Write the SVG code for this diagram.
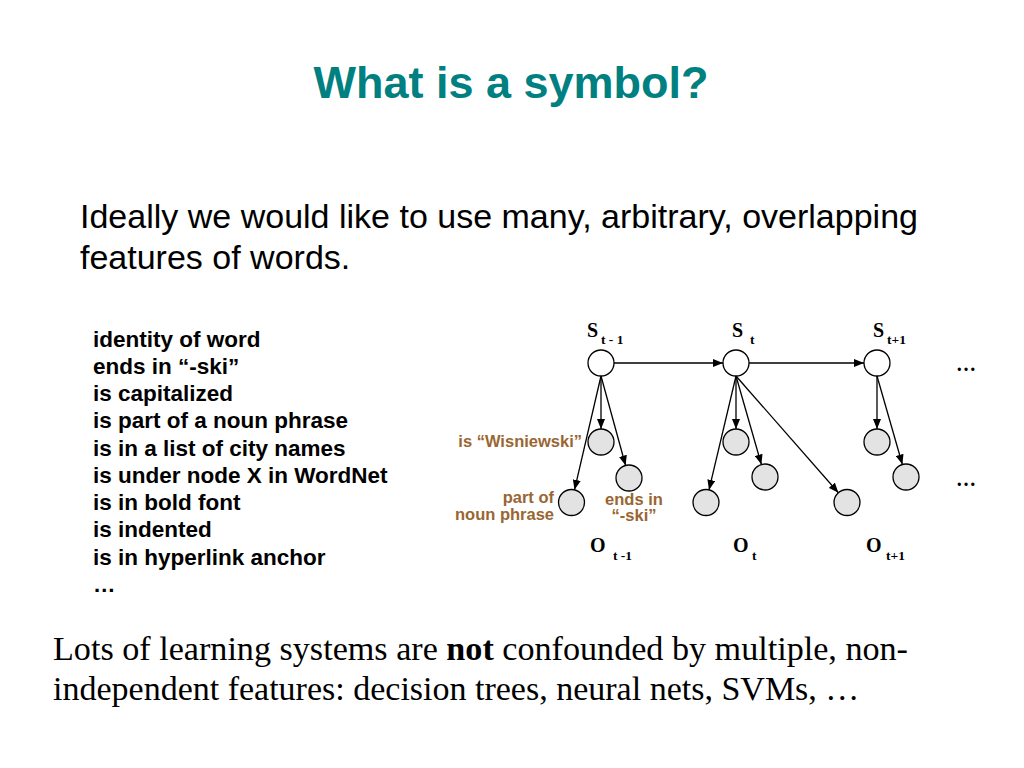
<svg xmlns="http://www.w3.org/2000/svg" width="1024" height="768" viewBox="0 0 1024 768">
<style>
.title{font-family:"Liberation Sans",Arial,sans-serif;font-weight:bold;font-size:45px;fill:#008080}
.para{font-family:"Liberation Sans",Arial,sans-serif;font-size:34px;fill:#000}
.list{font-family:"Liberation Sans",Arial,sans-serif;font-weight:bold;font-size:22.5px;fill:#000}
.lab{font-family:"Liberation Sans",Arial,sans-serif;font-weight:bold;font-size:16.5px;fill:#996633}
.sym{font-family:"Liberation Serif","Times New Roman",serif;font-weight:bold;font-size:20px;fill:#000}
.sub{font-family:"Liberation Serif","Times New Roman",serif;font-weight:bold;font-size:13.5px;fill:#000}
.bot{font-family:"Liberation Serif","Times New Roman",serif;font-size:34px;fill:#000}
.hid{fill:#fff;stroke:#000;stroke-width:1.3}
.obs{fill:#e3e3e3;stroke:#000;stroke-width:1.3}
.edge{stroke:#000;stroke-width:1.3;fill:none;marker-end:url(#arr)}
</style>
<defs>
<marker id="arr" viewBox="0 0 10 8" refX="10" refY="4" markerWidth="10" markerHeight="8" markerUnits="userSpaceOnUse" orient="auto">
<path d="M0,0 L10,4 L0,8 Z" fill="#000"/>
</marker>
</defs>
<rect width="1024" height="768" fill="#fff"/>
<text class="title" x="511" y="98" text-anchor="middle">What is a symbol?</text>
<text class="para" x="80" y="228" textLength="838" lengthAdjust="spacingAndGlyphs">Ideally we would like to use many, arbitrary, overlapping</text>
<text class="para" x="80" y="269">features of words.</text>
<g id="feature-list" class="list">
<text x="93" y="347">identity of word</text>
<text x="93" y="374">ends in “-ski”</text>
<text x="93" y="401">is capitalized</text>
<text x="93" y="428">is part of a noun phrase</text>
<text x="93" y="455.5">is in a list of city names</text>
<text x="93" y="482.5">is under node X in WordNet</text>
<text x="93" y="510">is in bold font</text>
<text x="93" y="537">is indented</text>
<text x="93" y="564.5">is in hyperlink anchor</text>
<text x="93" y="591.5">…</text>
</g>
<g id="connectors">
<line class="edge" x1="614" y1="363" x2="723" y2="363"/>
<line class="edge" x1="749" y1="363" x2="864" y2="363"/>
<line class="edge" x1="601" y1="376" x2="601" y2="429"/>
<line class="edge" x1="601" y1="376" x2="574.5" y2="489.8"/>
<line class="edge" x1="601" y1="376" x2="625.6" y2="465.5"/>
<line class="edge" x1="736" y1="376" x2="709" y2="489.9"/>
<line class="edge" x1="736" y1="376" x2="736" y2="429"/>
<line class="edge" x1="736" y1="376" x2="761.4" y2="464.5"/>
<line class="edge" x1="736" y1="376" x2="838.4" y2="492.7"/>
<line class="edge" x1="877" y1="376" x2="877" y2="429"/>
<line class="edge" x1="877" y1="376" x2="902.4" y2="464.5"/>
</g>
<g id="S_t-1"><circle class="hid" cx="601" cy="363" r="13"/><text class="sym" x="587" y="337">S</text><text class="sub" x="601" y="344">t - 1</text></g>
<g id="S_t"><circle class="hid" cx="736" cy="363" r="13"/><text class="sym" x="732" y="337">S</text><text class="sub" x="750" y="344">t</text></g>
<g id="S_t+1"><circle class="hid" cx="877" cy="363" r="13"/><text class="sym" x="873" y="337">S</text><text class="sub" x="887" y="344">t+1</text></g>
<g id="obs-wisniewski"><circle class="obs" cx="601" cy="442" r="13"/><text class="lab" x="582" y="447" text-anchor="end">is “Wisniewski”</text></g>
<g id="obs-ends-ski"><circle class="obs" cx="629" cy="478" r="13"/><text class="lab" x="634" y="505" text-anchor="middle">ends in</text><text class="lab" x="634" y="521" text-anchor="middle">“-ski”</text></g>
<g id="obs-noun-phrase"><circle class="obs" cx="571.5" cy="502.5" r="13"/><text class="lab" x="554" y="503" text-anchor="end">part of</text><text class="lab" x="554" y="519.5" text-anchor="end">noun phrase</text></g>
<g id="obs-t-a"><circle class="obs" cx="706" cy="502.5" r="13"/></g>
<g id="obs-t-b"><circle class="obs" cx="736" cy="442" r="13"/></g>
<g id="obs-t-c"><circle class="obs" cx="765" cy="477" r="13"/></g>
<g id="obs-t-d"><circle class="obs" cx="847" cy="502.5" r="13"/></g>
<g id="obs-t1-a"><circle class="obs" cx="877" cy="442" r="13"/></g>
<g id="obs-t1-b"><circle class="obs" cx="906" cy="477" r="13"/></g>
<g id="O_t-1"><text class="sym" x="590" y="552">O</text><text class="sub" x="613" y="560">t -1</text></g>
<g id="O_t"><text class="sym" x="733" y="552">O</text><text class="sub" x="752" y="560">t</text></g>
<g id="O_t+1"><text class="sym" x="866" y="552">O</text><text class="sub" x="886" y="560">t+1</text></g>
<text class="sym" x="956" y="371" font-size="22">…</text>
<text class="sym" x="956" y="486" font-size="22">…</text>
<text class="bot" x="53" y="660" textLength="855" lengthAdjust="spacingAndGlyphs">Lots of learning systems are <tspan font-weight="bold">not</tspan> confounded by multiple, non-</text>
<text class="bot" x="53" y="700">independent features: decision trees, neural nets, SVMs, …</text>
</svg>
